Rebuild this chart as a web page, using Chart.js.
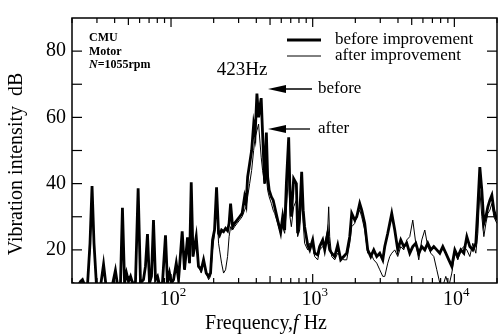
<!DOCTYPE html>
<html>
<head>
<meta charset="utf-8">
<script src="https://cdn.jsdelivr.net/npm/chart.js@4.4.1/dist/chart.umd.min.js"></script>
<style>
  body { margin: 0; background: #fff; }
  #wrap { width: 499px; height: 336px; }
</style>
</head>
<body>
<div id="wrap"><canvas id="spectrum" width="499" height="336"></canvas></div>
<script>
// frequency points (Hz)
var freqHz = [20, 22, 23, 23.7, 24.5, 25.7, 26.8, 27.7, 28.6, 29.8,
  31.8, 33.4, 34.8, 38.6, 40.5, 41.9, 44, 45.4, 47, 48.5,
  50.1, 51.8, 53.5, 56.1, 58.6, 60.9, 63.9, 66, 68.2, 70.5,
  72.8, 75.2, 77.7, 80.3, 82.9, 87, 91.4, 94.4, 97.6, 100.8,
  104.2, 108.9, 113, 119.9, 124.5, 130.8, 135.1, 138.9, 143, 150.6,
  156.3, 163.4, 169.7, 177.3, 184.1, 190.1, 196.4, 202.8, 209.6, 216.5,
  220.1, 227.4, 234.9, 242.7, 250.7, 257, 263.3, 272, 281, 292.6,
  304.9, 317.6, 330.6, 338.8, 347.4, 358.9, 370.7, 383, 392.4, 404,
  415, 425.6, 433, 443, 458, 471, 481, 493, 511, 526,
  539, 566, 594, 614, 634, 652, 677, 691, 707, 734,
  767, 783, 809, 836, 857, 877, 922, 953, 1000, 1033,
  1085, 1120, 1177, 1216, 1276, 1297, 1318, 1362, 1430, 1502,
  1577, 1656, 1739, 1826, 1886, 1981, 2046, 2148, 2219, 2330,
  2447, 2569, 2698, 2833, 2975, 3124, 3227, 3388, 3500, 3615,
  3796, 3986, 4185, 4394, 4614, 4845, 5087, 5342, 5609, 5889,
  6184, 6493, 6818, 7159, 7517, 7893, 8288, 8702, 9138, 9595,
  10075, 10579, 11108, 11663, 12246, 12858, 13501, 14176, 14645, 15130,
  15630, 16150, 16690, 17240, 17810, 18400, 19010, 19950];

// vibration level before improvement (dB)
var beforeDb = [10, 9, 10.5, 11, 9.5, 9, 22, 39.3, 22, 9,
  9, 15.6, 9, 9.5, 13.8, 9.5, 10, 32.7, 10, 13,
  10.5, 12, 10, 10, 38.6, 10, 11, 15, 24.8, 10,
  12, 29, 11, 12, 9.5, 10, 24.4, 10, 13, 10,
  11, 16, 11, 25.6, 14, 23.8, 16, 40.4, 18, 24,
  15, 14, 17, 13, 12, 13, 23, 26, 38.9, 25,
  24.4, 26, 25.5, 26.5, 25.8, 28, 34, 27, 28, 29,
  30, 31, 36, 34, 42, 46, 50, 57.8, 55, 67.2,
  60, 63.7, 65.8, 55, 40, 55.4, 42, 38, 36, 35,
  33, 29, 25.3, 30, 26, 40, 54, 38, 30, 41.5,
  40, 25, 30, 43.6, 32, 27, 21.5, 20, 23, 19,
  18.5, 21, 23, 20, 25, 22, 20, 19, 18, 21.5,
  17, 18, 19, 24, 31, 29, 30, 34, 32, 28,
  20, 18, 20, 18, 19, 17, 21, 25, 28, 31,
  26, 20, 23, 21, 22, 19, 21, 22, 19, 21,
  20, 22, 20, 21, 20, 19, 21, 19, 17, 15,
  20, 18, 20, 19, 24, 21, 20, 22, 33, 45,
  38, 28, 30, 33, 35, 36.5, 32, 29];

// vibration level after improvement (dB)
var afterDb = [10, 9, 10, 10.5, 9.5, 9, 20, 36, 22, 9,
  9, 15, 9, 9.5, 13, 9.5, 10, 30, 10, 12,
  10.5, 12, 10, 10, 36, 10, 11, 15, 23, 10,
  12, 28, 11, 12, 9.5, 10, 23, 10, 12, 10,
  11, 15, 11, 24, 14, 22, 16, 38, 18, 23,
  15, 13, 17, 13, 11, 12, 20, 25, 36, 22,
  20, 16, 13, 14, 18, 24, 27, 26, 27, 28,
  29, 30, 32, 33, 36, 40, 44, 50, 54, 56,
  58, 52, 48, 44, 40, 42, 38, 36, 34, 32,
  31, 28, 25, 27, 25, 32, 44, 30, 27, 33,
  35, 24, 26, 36, 28, 22, 20, 22, 21, 18,
  17, 20, 21, 22, 26, 33, 24, 18, 17, 19,
  18, 17, 17, 22, 27, 28, 30, 32, 30, 26,
  19, 19, 17, 16, 14, 12, 12, 16, 18, 19,
  20, 18, 21, 20, 23, 24, 29, 22, 17, 23,
  26, 21, 19, 18, 14, 10, 9, 12, 9, 13,
  19, 17, 20, 21, 20, 18, 22, 19, 25, 38,
  30, 24, 28, 31, 32, 34, 30, 28];

var yTicks = [20, 40, 60, 80];
var xDecades = [100, 1000, 10000];
var seriesNames = ['before improvement', 'after improvement'];
var noteLines = ['CMU', 'Motor'];

function pts(vals) {
    return freqHz.map(function (f, i) { return { x: f, y: vals[i] }; });
}

var serif = '"Liberation Serif", "DejaVu Serif", serif';

function line(ctx, x1, y1, x2, y2) {
    ctx.beginPath();
    ctx.moveTo(x1, y1);
    ctx.lineTo(x2, y2);
    ctx.stroke();
}

function arrow(ctx, tipX, y, tailX) {
    line(ctx, tipX + 10, y, tailX, y);
    ctx.beginPath();
    ctx.moveTo(tipX, y);
    ctx.lineTo(tipX + 18, y - 4);
    ctx.lineTo(tipX + 18, y + 4);
    ctx.closePath();
    ctx.fill();
}

// frame, inward ticks, decade labels and annotations
var decorations = {
    id: 'decorations',
    afterDraw: function (chart) {
        var ctx = chart.ctx;
        var a = chart.chartArea;
        var x = chart.scales.x;
        var y = chart.scales.y;
        ctx.save();
        ctx.strokeStyle = '#000';
        ctx.fillStyle = '#000';
        ctx.lineWidth = 1.5;
        ctx.strokeRect(a.left, a.top, a.right - a.left, a.bottom - a.top);

        ctx.lineWidth = 1.2;
        for (var e = 1; e <= 4; e++) {
            for (var m = 1; m <= 9; m++) {
                var f = m * Math.pow(10, e);
                if (f < x.min || f > x.max) continue;
                var px = x.getPixelForValue(f);
                var len = m === 1 ? 9 : (m === 5 ? 7 : 5);
                line(ctx, px, a.bottom, px, a.bottom - len);
                line(ctx, px, a.top, px, a.top + len);
            }
        }
        for (var v = 20; v <= 80; v += 10) {
            var py = y.getPixelForValue(v);
            line(ctx, a.left, py, a.left + 10, py);
            line(ctx, a.right, py, a.right - 10, py);
        }

        // decade labels 10^n
        ctx.textBaseline = 'alphabetic';
        xDecades.forEach(function (d) {
            var cx = x.getPixelForValue(d);
            var exp = String(Math.round(Math.log10(d)));
            ctx.font = '20px ' + serif;
            var w1 = ctx.measureText('10').width;
            ctx.font = '13px ' + serif;
            var w2 = ctx.measureText(exp).width;
            var left = cx - (w1 + w2) / 2 + 2;
            ctx.font = '20px ' + serif;
            ctx.textAlign = 'left';
            ctx.fillText('10', left, a.bottom + 22);
            ctx.font = '13px ' + serif;
            ctx.fillText(exp, left + w1, a.bottom + 13);
        });

        // x title: Frequency, f Hz
        ctx.font = '20px ' + serif;
        var t1 = 'Frequency,';
        var t3 = ' Hz';
        var w1 = ctx.measureText(t1).width;
        var w3 = ctx.measureText(t3).width;
        ctx.font = 'italic 20px ' + serif;
        var w2 = ctx.measureText('f').width;
        var sx = 266 - (w1 + w2 + w3) / 2;
        ctx.font = '20px ' + serif;
        ctx.fillText(t1, sx, 329);
        ctx.font = 'italic 20px ' + serif;
        ctx.fillText('f', sx + w1, 329);
        ctx.font = '20px ' + serif;
        ctx.fillText(t3, sx + w1 + w2, 329);

        // y title
        ctx.save();
        ctx.translate(17, 164);
        ctx.rotate(-Math.PI / 2);
        ctx.textAlign = 'center';
        ctx.textBaseline = 'middle';
        ctx.font = '20px ' + serif;
        ctx.fillText('Vibration intensity  dB', 0, 0);
        ctx.restore();

        // notes top left
        ctx.textAlign = 'left';
        ctx.textBaseline = 'middle';
        ctx.font = 'bold 12px ' + serif;
        ctx.fillText(noteLines[0], 89, 38);
        ctx.fillText(noteLines[1], 89, 52);
        ctx.font = 'italic bold 12px ' + serif;
        ctx.fillText('N', 89, 65);
        var wn = ctx.measureText('N').width;
        ctx.font = 'bold 12px ' + serif;
        ctx.fillText('=1055rpm', 89 + wn, 65);

        // peak label and arrows
        ctx.font = '19px ' + serif;
        ctx.textAlign = 'center';
        ctx.fillText('423Hz', 242, 70);
        ctx.lineWidth = 1.3;
        arrow(ctx, 268, 89, 312);
        arrow(ctx, 268, 129, 310);
        ctx.textAlign = 'left';
        ctx.font = '17px ' + serif;
        ctx.fillText('before', 318, 89);
        ctx.fillText('after', 318, 129);

        // legend
        ctx.lineWidth = 2.8;
        line(ctx, 287, 40, 321, 40);
        ctx.lineWidth = 1;
        line(ctx, 287, 56, 321, 56);
        ctx.fillText(seriesNames[0], 335, 40);
        ctx.fillText(seriesNames[1], 335, 56);
        ctx.restore();
    }
};

var ctx = document.getElementById('spectrum');
var chart = new Chart(ctx, {
    type: 'line',
    data: {
        datasets: [{
            label: seriesNames[0],
            data: pts(beforeDb),
            borderColor: '#000',
            borderWidth: 2.8,
            pointRadius: 0,
            tension: 0,
        }, {
            label: seriesNames[1],
            data: pts(afterDb),
            borderColor: '#000',
            borderWidth: 1,
            pointRadius: 0,
            tension: 0,
        }]
    },
    options: {
        responsive: false,
        animation: false,
        layout: { padding: { top: 12, right: 2, left: 0, bottom: 0 } },
        plugins: {
            legend: { display: false },
            tooltip: { enabled: false }
        },
        scales: {
            x: {
                type: 'logarithmic',
                min: 20,
                max: 20000,
                grid: { display: false },
                border: { display: false },
                ticks: { display: false },
                afterFit: function (s) { s.height = 53; }
            },
            y: {
                min: 10,
                max: 90,
                afterBuildTicks: function (s) {
                    s.ticks = yTicks.map(function (v) { return { value: v }; });
                },
                grid: { display: false, drawTicks: false },
                border: { display: false },
                ticks: {
                    color: '#000',
                    padding: 6,
                    font: { family: serif, size: 20 }
                },
                afterFit: function (s) { s.width = 72; }
            }
        }
    },
    plugins: [decorations]
});
</script>
</body>
</html>
